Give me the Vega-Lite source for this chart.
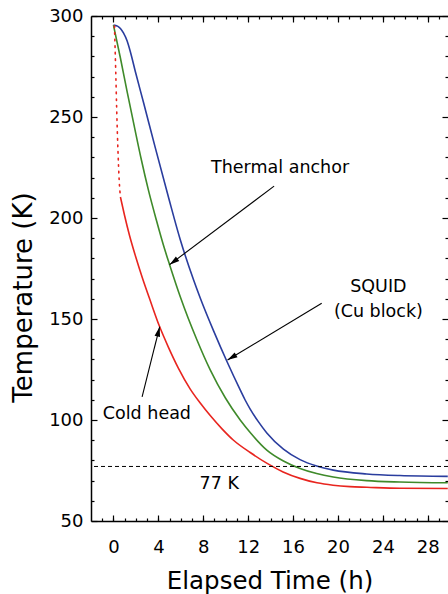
{
  "$schema": "https://vega.github.io/schema/vega-lite/v6.json",
  "width": 357,
  "height": 505,
  "autosize": {"type": "none"},
  "padding": {"left": 91, "top": 16, "right": 0, "bottom": 73},
  "background": "white",
  "config": {
    "view": {"stroke": null},
    "font": "DejaVu Sans",
    "axis": {
      "grid": false,
      "domainColor": "black",
      "domainWidth": 1.5,
      "tickColor": "black",
      "tickWidth": 1.2,
      "labelColor": "black",
      "labelFont": "DejaVu Sans",
      "labelFontSize": 18,
      "titleFont": "DejaVu Sans",
      "titleFontWeight": "normal",
      "titleColor": "black",
      "labelFlush": false,
      "labelOverlap": false
    }
  },
  "datasets": {
    "curves": [
      {"series": "SQUID", "h": 0, "T": 295.5},
      {"series": "SQUID", "h": 0.36, "T": 295.0},
      {"series": "SQUID", "h": 0.62, "T": 293.8},
      {"series": "SQUID", "h": 0.89, "T": 291.6},
      {"series": "SQUID", "h": 1.22, "T": 287.6},
      {"series": "SQUID", "h": 1.51, "T": 282.2},
      {"series": "SQUID", "h": 1.96, "T": 272.3},
      {"series": "SQUID", "h": 2.69, "T": 256.9},
      {"series": "SQUID", "h": 3.73, "T": 234.7},
      {"series": "SQUID", "h": 4.92, "T": 209.9},
      {"series": "SQUID", "h": 5.96, "T": 189.1},
      {"series": "SQUID", "h": 7.14, "T": 169.3},
      {"series": "SQUID", "h": 7.73, "T": 160.4},
      {"series": "SQUID", "h": 8.92, "T": 144.1},
      {"series": "SQUID", "h": 10.13, "T": 128.7},
      {"series": "SQUID", "h": 11.29, "T": 114.9},
      {"series": "SQUID", "h": 11.73, "T": 109.9},
      {"series": "SQUID", "h": 12.18, "T": 105.4},
      {"series": "SQUID", "h": 12.89, "T": 99.3},
      {"series": "SQUID", "h": 13.66, "T": 93.6},
      {"series": "SQUID", "h": 15.14, "T": 85.6},
      {"series": "SQUID", "h": 16.62, "T": 80.4},
      {"series": "SQUID", "h": 18.1, "T": 77.2},
      {"series": "SQUID", "h": 19.58, "T": 75.2},
      {"series": "SQUID", "h": 22.55, "T": 73.3},
      {"series": "SQUID", "h": 25.51, "T": 72.5},
      {"series": "SQUID", "h": 29.78, "T": 72.1},
      {"series": "Thermal anchor", "h": 0, "T": 295.5},
      {"series": "Thermal anchor", "h": 0.62, "T": 279.2},
      {"series": "Thermal anchor", "h": 1.24, "T": 261.9},
      {"series": "Thermal anchor", "h": 1.87, "T": 245.0},
      {"series": "Thermal anchor", "h": 2.49, "T": 228.7},
      {"series": "Thermal anchor", "h": 3.11, "T": 213.9},
      {"series": "Thermal anchor", "h": 3.82, "T": 199.0},
      {"series": "Thermal anchor", "h": 4.53, "T": 185.1},
      {"series": "Thermal anchor", "h": 5.0, "T": 176.9},
      {"series": "Thermal anchor", "h": 5.96, "T": 160.9},
      {"series": "Thermal anchor", "h": 7.44, "T": 139.6},
      {"series": "Thermal anchor", "h": 8.62, "T": 124.8},
      {"series": "Thermal anchor", "h": 9.96, "T": 111.0},
      {"series": "Thermal anchor", "h": 11.29, "T": 100.0},
      {"series": "Thermal anchor", "h": 12.18, "T": 93.8},
      {"series": "Thermal anchor", "h": 13.66, "T": 85.1},
      {"series": "Thermal anchor", "h": 15.14, "T": 79.7},
      {"series": "Thermal anchor", "h": 16.62, "T": 76.0},
      {"series": "Thermal anchor", "h": 18.1, "T": 73.5},
      {"series": "Thermal anchor", "h": 19.58, "T": 71.8},
      {"series": "Thermal anchor", "h": 22.55, "T": 70.0},
      {"series": "Thermal anchor", "h": 25.51, "T": 69.3},
      {"series": "Thermal anchor", "h": 29.78, "T": 68.9},
      {"series": "Cold head", "h": 0.09, "T": 295.0},
      {"series": "Cold head", "h": 0.2, "T": 273.3},
      {"series": "Cold head", "h": 0.29, "T": 253.5},
      {"series": "Cold head", "h": 0.4, "T": 233.7},
      {"series": "Cold head", "h": 0.51, "T": 218.8},
      {"series": "Cold head", "h": 0.62, "T": 210.4},
      {"series": "Cold head", "h": 0.98, "T": 201.5},
      {"series": "Cold head", "h": 1.42, "T": 191.6},
      {"series": "Cold head", "h": 1.96, "T": 181.2},
      {"series": "Cold head", "h": 2.58, "T": 170.3},
      {"series": "Cold head", "h": 3.29, "T": 158.9},
      {"series": "Cold head", "h": 4.09, "T": 146.5},
      {"series": "Cold head", "h": 4.89, "T": 136.1},
      {"series": "Cold head", "h": 5.78, "T": 125.7},
      {"series": "Cold head", "h": 6.84, "T": 115.3},
      {"series": "Cold head", "h": 7.73, "T": 108.4},
      {"series": "Cold head", "h": 8.62, "T": 102.2},
      {"series": "Cold head", "h": 9.69, "T": 95.5},
      {"series": "Cold head", "h": 10.67, "T": 90.1},
      {"series": "Cold head", "h": 12.18, "T": 83.9},
      {"series": "Cold head", "h": 13.69, "T": 78.5},
      {"series": "Cold head", "h": 15.11, "T": 74.3},
      {"series": "Cold head", "h": 16.62, "T": 71.1},
      {"series": "Cold head", "h": 18.13, "T": 68.9},
      {"series": "Cold head", "h": 19.56, "T": 67.7},
      {"series": "Cold head", "h": 21.07, "T": 67.0},
      {"series": "Cold head", "h": 22.58, "T": 66.7},
      {"series": "Cold head", "h": 25.51, "T": 66.2},
      {"series": "Cold head", "h": 29.78, "T": 66.1}
    ],
    "labels": [
      {"text": "Thermal anchor", "h": 14.84, "T": 222.3},
      {"text": "SQUID", "h": 23.6, "T": 163.4},
      {"text": "(Cu block)", "h": 23.6, "T": 151.0},
      {"text": "Cold head", "h": 2.98, "T": 100.5},
      {"text": "77 K", "h": 9.42, "T": 65.8}
    ],
    "arrows": [
      {"label": "Thermal anchor", "h1": 14.31, "T1": 215.8, "h2": 5.0, "T2": 176.9},
      {"label": "SQUID", "h1": 18.55, "T1": 157.8, "h2": 10.16, "T2": 129.7},
      {"label": "Cold head", "h1": 2.55, "T1": 111.5, "h2": 4.12, "T2": 146.2}
    ],
    "ref": [{"T": 77}]
  },
  "layer": [
    {
      "data": {"name": "curves"},
      "transform": [{"filter": "datum.series != 'Cold head' || datum.h >= 0.62"}],
      "mark": {"type": "line", "strokeWidth": 1.6, "interpolate": "monotone"},
      "encoding": {
        "x": {
          "field": "h", "type": "quantitative",
          "scale": {"domain": [-2, 29.8], "nice": false, "zero": false},
          "axis": {
            "orient": "bottom", "values": [0, 4, 8, 12, 16, 20, 24, 28],
            "tickSize": -6, "labelPadding": 23, "domain": true,
            "title": "Elapsed Time (h)", "titleY": 67, "titleBaseline": "alphabetic",
            "titleFontSize": 24.5
          }
        },
        "y": {
          "field": "T", "type": "quantitative",
          "scale": {"domain": [50, 300], "nice": false, "zero": false},
          "axis": {
            "orient": "left", "values": [50, 100, 150, 200, 250, 300],
            "tickSize": -6, "labelPadding": 14, "domain": true,
            "title": "Temperature (K)", "titleX": -60, "titleY": 281,
            "titleBaseline": "alphabetic", "titleFontSize": 26
          }
        },
        "color": {
          "field": "series", "type": "nominal",
          "scale": {"domain": ["Cold head", "Thermal anchor", "SQUID"], "range": ["#e8251f", "#3f8a2a", "#2a3d9e"]},
          "legend": null
        }
      }
    },
    {
      "data": {"name": "curves"},
      "transform": [{"filter": "datum.series == 'Cold head' && datum.h <= 0.62"}],
      "mark": {"type": "line", "color": "#e8251f", "strokeWidth": 1.6, "strokeDash": [1.6, 5], "strokeCap": "round", "interpolate": "monotone"},
      "encoding": {
        "x": {
          "field": "h", "type": "quantitative",
          "scale": {"domain": [-2, 29.8], "nice": false, "zero": false},
          "axis": {
            "orient": "bottom",
            "values": [-1, 0, 1, 2, 3, 4, 5, 6, 7, 8, 9, 10, 11, 12, 13, 14, 15, 16, 17, 18, 19, 20, 21, 22, 23, 24, 25, 26, 27, 28, 29],
            "tickSize": -3, "labels": false, "domain": false, "title": null
          }
        },
        "y": {
          "field": "T", "type": "quantitative",
          "scale": {"domain": [50, 300], "nice": false, "zero": false},
          "axis": {
            "orient": "left",
            "values": [60, 70, 80, 90, 110, 120, 130, 140, 160, 170, 180, 190, 210, 220, 230, 240, 260, 270, 280, 290],
            "tickSize": -3, "labels": false, "domain": false, "title": null
          }
        }
      }
    },
    {
      "data": {"name": "ref"},
      "mark": {"type": "rule", "color": "black", "strokeWidth": 1, "strokeDash": [4, 3]},
      "encoding": {
        "y": {"field": "T", "type": "quantitative", "scale": {"domain": [50, 300], "nice": false, "zero": false}, "axis": null}
      }
    },
    {
      "data": {"name": "labels"},
      "mark": {"type": "text", "align": "center", "baseline": "alphabetic", "fontSize": 17.5, "color": "black", "font": "DejaVu Sans"},
      "encoding": {
        "x": {
          "field": "h", "type": "quantitative",
          "scale": {"domain": [-2, 29.8], "nice": false, "zero": false},
          "axis": {
            "orient": "top", "values": [0, 4, 8, 12, 16, 20, 24, 28],
            "tickSize": -6, "labels": false, "domain": true, "title": null
          }
        },
        "y": {
          "field": "T", "type": "quantitative",
          "scale": {"domain": [50, 300], "nice": false, "zero": false},
          "axis": {
            "orient": "right", "values": [50, 100, 150, 200, 250, 300],
            "tickSize": -6, "labels": false, "domain": false, "title": null
          }
        },
        "text": {"field": "text", "type": "nominal"}
      }
    },
    {
      "data": {"name": "arrows"},
      "mark": {"type": "rule", "color": "black", "strokeWidth": 1.1},
      "encoding": {
        "x": {
          "field": "h1", "type": "quantitative",
          "scale": {"domain": [-2, 29.8], "nice": false, "zero": false},
          "axis": {
            "orient": "top",
            "values": [-1, 0, 1, 2, 3, 4, 5, 6, 7, 8, 9, 10, 11, 12, 13, 14, 15, 16, 17, 18, 19, 20, 21, 22, 23, 24, 25, 26, 27, 28, 29],
            "tickSize": -3, "labels": false, "domain": false, "title": null
          }
        },
        "y": {
          "field": "T1", "type": "quantitative",
          "scale": {"domain": [50, 300], "nice": false, "zero": false},
          "axis": {
            "orient": "right",
            "values": [60, 70, 80, 90, 110, 120, 130, 140, 160, 170, 180, 190, 210, 220, 230, 240, 260, 270, 280, 290],
            "tickSize": -3, "labels": false, "domain": false, "title": null
          }
        },
        "x2": {"field": "h2"},
        "y2": {"field": "T2"}
      }
    },
    {
      "data": {"name": "arrows"},
      "transform": [{"filter": "datum.label == 'Thermal anchor'"}],
      "mark": {"type": "point", "shape": "M0,0 L0.28,1 L-0.28,1 Z", "filled": true, "color": "black", "opacity": 1, "size": 400, "strokeWidth": 0, "angle": 233},
      "encoding": {
        "x": {"field": "h2", "type": "quantitative", "scale": {"domain": [-2, 29.8], "nice": false, "zero": false}, "axis": null},
        "y": {"field": "T2", "type": "quantitative", "scale": {"domain": [50, 300], "nice": false, "zero": false}, "axis": null}
      }
    },
    {
      "data": {"name": "arrows"},
      "transform": [{"filter": "datum.label == 'SQUID'"}],
      "mark": {"type": "point", "shape": "M0,0 L0.28,1 L-0.28,1 Z", "filled": true, "color": "black", "opacity": 1, "size": 400, "strokeWidth": 0, "angle": 239},
      "encoding": {
        "x": {"field": "h2", "type": "quantitative", "scale": {"domain": [-2, 29.8], "nice": false, "zero": false}, "axis": null},
        "y": {"field": "T2", "type": "quantitative", "scale": {"domain": [50, 300], "nice": false, "zero": false}, "axis": null}
      }
    },
    {
      "data": {"name": "arrows"},
      "transform": [{"filter": "datum.label == 'Cold head'"}],
      "mark": {"type": "point", "shape": "M0,0 L0.28,1 L-0.28,1 Z", "filled": true, "color": "black", "opacity": 1, "size": 400, "strokeWidth": 0, "angle": 14},
      "encoding": {
        "x": {"field": "h2", "type": "quantitative", "scale": {"domain": [-2, 29.8], "nice": false, "zero": false}, "axis": null},
        "y": {"field": "T2", "type": "quantitative", "scale": {"domain": [50, 300], "nice": false, "zero": false}, "axis": null}
      }
    }
  ],
  "resolve": {"axis": {"x": "independent", "y": "independent"}}
}
